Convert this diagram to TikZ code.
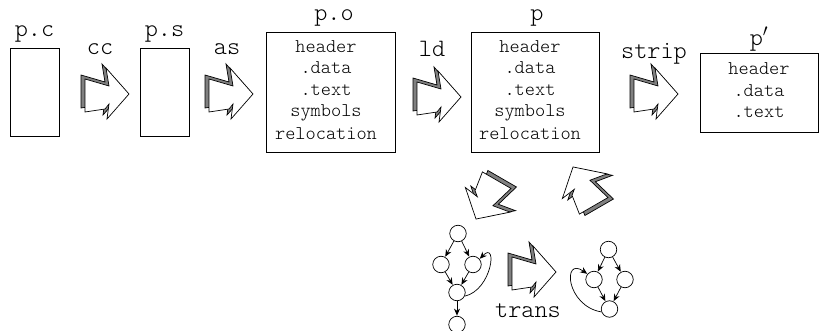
\documentclass[tikz,border=0pt]{standalone}
\usepackage{fontspec}
\usetikzlibrary{arrows.meta}
\setmonofont{Latin Modern Mono Light}

\tikzset{
  x=1pt, y=-1pt,
  lbl/.style={font=\fontsize{25}{28}\selectfont\ttfamily, inner sep=0pt, anchor=base},
  sect/.style={font=\fontsize{19.4}{22}\selectfont\ttfamily, inner sep=0pt, anchor=base},
  filebox/.style={draw, line width=0.9pt, inner sep=0pt},
  gnode/.style={draw, circle, minimum size=16.5pt, inner sep=0pt, line width=0.7pt},
  gedge/.style={-{Stealth[length=7pt,width=6pt]}, line width=0.7pt, shorten >=0.3pt},
  % zig-zag block arrow with a grey extruded side, pointing right
  pics/zigarrow/.style={code={
    \begin{scope}[line width=0.7pt, line join=miter]
      \draw[fill=black!50, shift={(-4,-4)}]
        (-22,-15) -- (2,-8) -- (-1,-26) -- (22,0) -- (0,25) -- (2,10)
        -- (-2,15) -- (-22,18) -- cycle;
      \draw[fill=white]
        (-22,-15) -- (2,-8) -- (-1,-26) -- (22,0) -- (0,25) -- (2,10)
        -- (-2,15) -- (-22,18) -- cycle;
    \end{scope}
  }},
}

\begin{document}
\begin{tikzpicture}
\useasboundingbox (0,0) rectangle (819,331);

% source, assembler and object files
\node[filebox, minimum width=49pt, minimum height=88pt] (pc) at (34.5,92) {};
\node[lbl] (pclbl) at (34.5,37) {p.c};
\node[filebox, minimum width=49pt, minimum height=88pt] (ps) at (164.5,92) {};
\node[lbl] (pslbl) at (164.5,37) {p.s};

\node[filebox, minimum width=129pt, minimum height=120pt] (po) at (330.5,92) {};
\node[lbl] (polbl) at (334,21) {p.o};
\node[sect] (po1) at (326,52.5) {header};
\node[sect] (po2) at (326,74) {.data};
\node[sect] (po3) at (326,96) {.text};
\node[sect] (po4) at (326,117) {symbols};
\node[sect] (po5) at (326,140) {relocation};

\node[filebox, minimum width=128pt, minimum height=120pt] (p) at (535.5,92) {};
\node[lbl] (plbl) at (537,21) {p};
\node[sect] (p1) at (530,52.5) {header};
\node[sect] (p2) at (530,74) {.data};
\node[sect] (p3) at (530,96) {.text};
\node[sect] (p4) at (530,117) {symbols};
\node[sect] (p5) at (530,140) {relocation};

\node[filebox, minimum width=118pt, minimum height=79pt] (ps2) at (759,92.5) {};
\node[lbl] (ps2lbl) at (759,46) {p$'$};
\node[sect] (ps21) at (759,75) {header};
\node[sect] (ps22) at (759,96.5) {.data};
\node[sect] (ps23) at (759,118) {.text};

% tool steps
\node[lbl] (cc) at (100,55) {cc};
\pic at (107,94) {zigarrow};
\node[lbl] (as) at (227,55) {as};
\pic at (231,94) {zigarrow};
\node[lbl] (ld) at (432,57) {ld};
\pic at (439,97) {zigarrow};
\node[lbl] (strip) at (654,59) {strip};
\pic at (656,94) {zigarrow};

% round trip through the flow-graph transformation
\pic[rotate=240] at (487,200) {zigarrow};
\pic[rotate=120, yscale=-1] at (584,186) {zigarrow};
\pic at (534,272) {zigarrow};
\node[lbl] (trans) at (528,317) {trans};

% flow graph before
\node[gnode] (a1) at (458,233.5) {};
\node[gnode] (a2) at (441,264.5) {};
\node[gnode] (a3) at (473,264.5) {};
\node[gnode] (a4) at (457,292.5) {};
\node[gnode] (a5) at (457,324.5) {};
\draw[gedge] (a1) -- (a2);
\draw[gedge] (a1) -- (a3);
\draw[gedge] (a2) -- (a4);
\draw[gedge] (a3) -- (a4);
\draw[gedge] (a4) -- (a5);
\draw[gedge] (a4.-25) .. controls (492,290) and (498,240) .. (a3.40);

% flow graph after
\node[gnode] (b1) at (608.5,249.5) {};
\node[gnode] (b2) at (594,279.5) {};
\node[gnode] (b3) at (625,279.5) {};
\node[gnode] (b4) at (609.5,309) {};
\draw[gedge] (b1) -- (b2);
\draw[gedge] (b1) -- (b3);
\draw[gedge] (b2) -- (b4);
\draw[gedge] (b3) -- (b4);
\draw[gedge] (b4.200) .. controls (566,306) and (562,256) .. (b2.140);
\end{tikzpicture}
\end{document}
